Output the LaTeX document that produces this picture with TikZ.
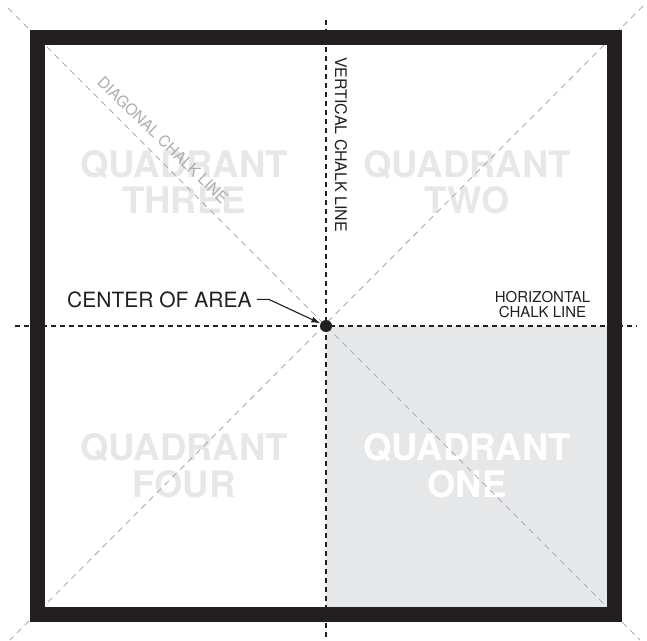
\documentclass[tikz,border=0pt]{standalone}
\usepackage{fontspec}
\setmainfont{TeX Gyre Heros}
\usetikzlibrary{arrows.meta}
\definecolor{frame}{HTML}{231F20}
\definecolor{qfill}{HTML}{E6E7E8}
\definecolor{chalk}{RGB}{172,173,176}
\tikzset{
  quadtext/.style={inner sep=0pt, anchor=base, font=\fontsize{36.5}{36}\selectfont\bfseries},
  chalkdiag/.style={draw=chalk, line width=0.9pt, dash pattern=on 6pt off 5pt},
  chalkline/.style={draw=frame, line width=2.8pt, dash pattern=on 4.5pt off 4.5pt},
  lbl/.style={inner sep=0pt, text=frame},
}
\begin{document}
\begin{tikzpicture}[x=1pt,y=-1pt]
\useasboundingbox (0,0) rectangle (647,640);
% quadrant one shading
\fill[qfill] (326,326) rectangle (614,614);
% quadrant texts
\node[quadtext, text=qfill] (q3a) at (184,177) {QUADRANT};
\node[quadtext, text=qfill] (q3b) at (184,213) {THREE};
\node[quadtext, text=qfill] (q2a) at (467,177) {QUADRANT};
\node[quadtext, text=qfill] (q2b) at (467,213) {TWO};
\node[quadtext, text=qfill] (q4a) at (184,460) {QUADRANT};
\node[quadtext, text=qfill] (q4b) at (184,497) {FOUR};
\node[quadtext, text=white] (q1a) at (467,460) {QUADRANT};
\node[quadtext, text=white] (q1b) at (467,497) {ONE};
% diagonal chalk lines
\coordinate (c) at (326,326);
\draw[chalkdiag] (8,8) -- (640,640);
\draw[chalkdiag] (643,6) -- (10,640);
% horizontal and vertical chalk lines
\draw[chalkline] (15,326) -- (637,326);
\draw[chalkline] (326,20) -- (326,640);
% walls
\draw[frame, line width=15pt] (37.5,37.5) rectangle (614.5,614.5);
% center dot
\node[circle, fill=frame, inner sep=0pt, minimum size=12pt] (dot) at (c) {};
% labels
\node[lbl, anchor=base west, font=\fontsize{21}{21}\selectfont] (center) at (67,307) {CENTER OF AREA};
\draw[frame, line width=1.1pt, -{Latex[length=9pt,width=6pt]}] ([xshift=5pt]center.east) -- ++(12,0) -- (dot);
\node[lbl, anchor=base west, rotate=-90, font=\fontsize{16}{16}\selectfont] (vert) at (335,57) {VERTICAL CHALK LINE};
\node[lbl, anchor=base, font=\fontsize{15}{15}\selectfont] (hor1) at (542.5,302) {HORIZONTAL};
\node[lbl, anchor=base, font=\fontsize{15}{15}\selectfont] (hor2) at (542.5,317) {CHALK LINE};
\node[lbl, anchor=base, rotate=-44, text=chalk, font=\fontsize{15.5}{15.5}\selectfont] (diag) at (159,144) {DIAGONAL CHALK LINE};
\end{tikzpicture}
\end{document}
